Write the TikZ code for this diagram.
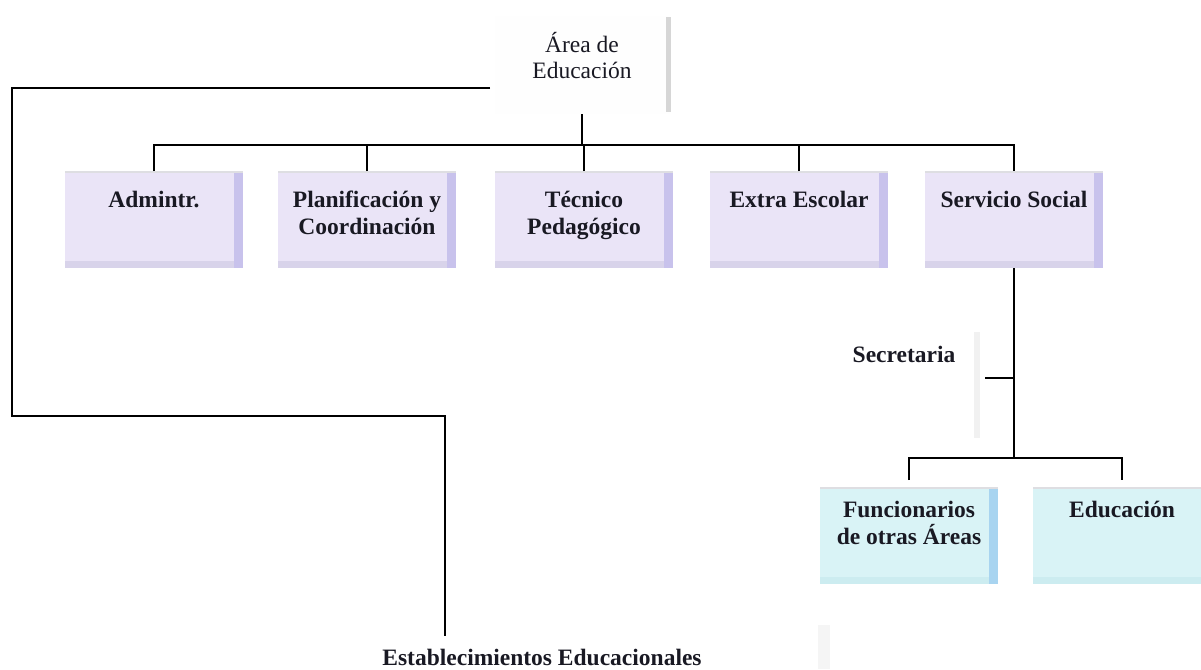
\documentclass[tikz,border=0pt]{standalone}
\usepackage{fontspec}
\setmainfont{Liberation Serif}
\definecolor{lav}{RGB}{234,228,247}
\definecolor{lavedge}{RGB}{200,194,236}
\definecolor{lavbot}{RGB}{216,211,234}
\definecolor{cyfill}{RGB}{217,243,246}
\definecolor{cyedge}{RGB}{168,212,240}
\definecolor{cybot}{RGB}{204,236,240}
\definecolor{topline}{RGB}{222,222,226}
\definecolor{faintbar}{RGB}{214,214,214}
\definecolor{txt}{RGB}{25,25,35}
\begin{document}
\begin{tikzpicture}[x=1pt,y=-1pt,
  bev/.style n args={3}{minimum width=178pt, minimum height=97pt, inner sep=0pt, anchor=north, fill=#1,
    path picture={
      \fill[#2] ([xshift=-9pt]path picture bounding box.north east) rectangle (path picture bounding box.south east);
      \fill[#3] (path picture bounding box.south west) rectangle ([yshift=7pt,xshift=-9pt]path picture bounding box.south east);
      \fill[topline] (path picture bounding box.north west) rectangle ([yshift=-2pt]path picture bounding box.north east);
    }},
  purplebox/.style={bev={lav}{lavedge}{lavbot}},
  cyanbox/.style={bev={cyfill}{cyedge}{cybot}},
  boxtext/.style={anchor=north, inner sep=0pt, align=center, font=\fontsize{23.5}{27}\selectfont\bfseries, text=txt},
  plaintext/.style={inner sep=0pt, align=center, font=\fontsize{23.5}{26}\selectfont, text=txt},
  boldtext/.style={inner sep=0pt, align=center, font=\fontsize{23.5}{27}\selectfont\bfseries, text=txt},
  conn/.style={draw=black, line width=1.7pt}
]
\useasboundingbox (0,0) rectangle (1201,669);

% top node
\node[minimum width=175pt, minimum height=98pt, inner sep=0pt, fill=white!99!gray] (areabox) at (582,65) {};
\fill[faintbar] (666,17) rectangle (671,112);
\node[plaintext] (area) at (582,56) {Área de\\Educación};

% purple boxes
\node[purplebox] (admin) at (154,171) {};
\node[purplebox] (plan) at (367,171) {};
\node[purplebox] (tecn) at (584,171) {};
\node[purplebox] (extra) at (799,171) {};
\node[purplebox] (serv) at (1014,171) {};
\node[boxtext] (admin-t) at ([yshift=-20pt]admin.north) {Admintr.};
\node[boxtext] (plan-t) at ([yshift=-20pt]plan.north) {Planificación y\\Coordinación};
\node[boxtext] (tecn-t) at ([yshift=-20pt]tecn.north) {Técnico\\Pedagógico};
\node[boxtext] (extra-t) at ([yshift=-20pt]extra.north) {Extra Escolar};
\node[boxtext] (serv-t) at ([yshift=-20pt]serv.north) {Servicio Social};

% cyan boxes
\node[cyanbox] (func) at (909,487) {};
\node[cyanbox] (edu) at (1122,487) {};
\node[boxtext] (func-t) at ([yshift=-14pt]func.north) {Funcionarios\\de otras Áreas};
\node[boxtext] (edu-t) at ([yshift=-14pt]edu.north) {Educación};

% secretaria
\fill[faintbar!35!white] (974,332) rectangle (980,438);
\node[boldtext] (secr) at (904,354) {Secretaria};

% establecimientos
\fill[faintbar!25!white] (818,625) rectangle (830,669);
\node[boldtext] (estab) at (542,657) {Establecimientos Educacionales};

% connectors: top bus
\coordinate (bus) at (582,145);
\draw[conn] (areabox.south) -- (bus);
\draw[conn] (admin.north) -- (admin.north |- bus) -- (serv.north |- bus) -- (serv.north);
\draw[conn] (plan.north) -- (plan.north |- bus);
\draw[conn] (tecn.north) -- (tecn.north |- bus);
\draw[conn] (extra.north) -- (extra.north |- bus);

% left connector
\coordinate (l0) at (490,88);
\coordinate (l1) at (12,88);
\coordinate (l2) at (12,416);
\coordinate (l3) at (445,416);
\coordinate (l4) at (445,636);
\draw[conn] (l0) -- (l1) -- (l2) -- (l3) -- (l4);

% servicio social branch
\coordinate (bus2) at (1014,458);
\coordinate (sec-e) at (985,378);
\draw[conn] (serv.south) -- (bus2);
\draw[conn] (sec-e) -- (sec-e -| serv.south);
\draw[conn] ([yshift=7pt]func.north) -- (func.north |- bus2) -- (edu.north |- bus2) -- ([yshift=7pt]edu.north);
\end{tikzpicture}
\end{document}
